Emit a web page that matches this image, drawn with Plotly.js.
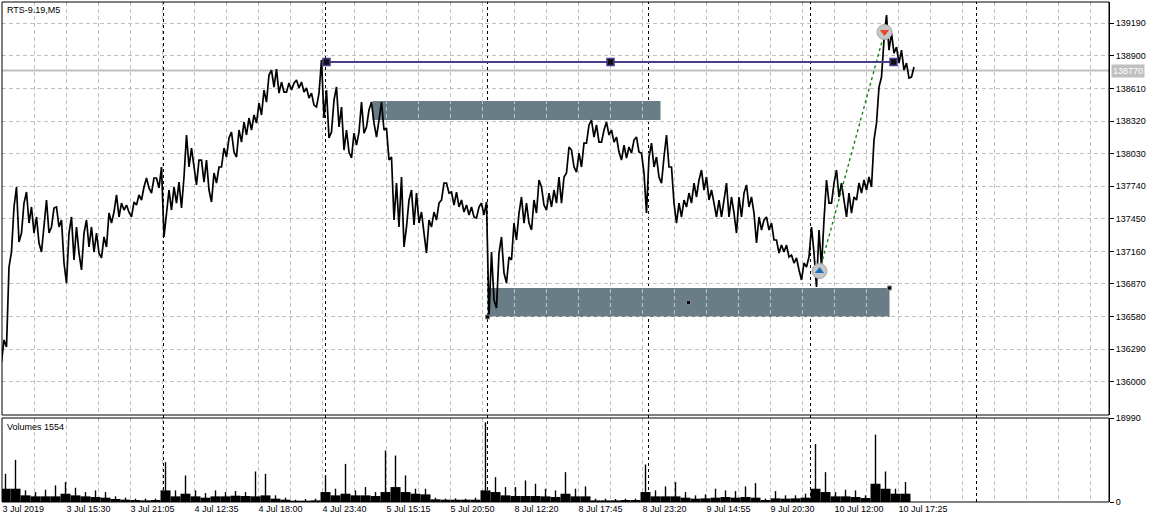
<!DOCTYPE html>
<html>
<head>
<meta charset="utf-8">
<script src="https://cdn.plot.ly/plotly-3.0.1.min.js"></script>
<style>html,body{margin:0;padding:0;background:#fff;}#chart{width:1162px;height:523px;}</style>
</head>
<body>
<div id="chart"></div>
<script>
// ---- data (RTS-9.19, M5) ----
// price envelope per 5-bar bucket (high / low)
const priceHigh = [136371,137021,137555,137733,137590,137688,137555,137466,137377,137617,137546,137555,137439,137323,137466,137377,137323,137439,137377,137323,
137288,137501,137510,137662,137590,137572,137599,137662,137733,137813,137813,137813,137911,137706,137733,137777,137822,138196,138080,137973,
137973,137973,137857,137911,138080,138169,138222,138240,138311,138347,138374,138480,138596,138730,138774,138783,138667,138658,138658,138685,
138667,138614,138569,138569,138863,138596,138507,138623,138445,138240,138213,138222,138489,138418,138489,138329,138489,138258,138000,137768,
137822,137617,137706,137679,137510,137439,137510,137590,137768,137768,137688,137688,137617,137572,137555,137555,137590,137599,137154,137145,
137288,137110,137412,137501,137644,137590,137617,137795,137733,137679,137706,137822,137822,138089,138062,138035,138124,138285,138329,138285,
138240,138311,138240,138178,138106,138089,138151,138178,138035,138000,138124,138000,138000,138196,137911,137590,137617,137679,137768,137795,
137884,137822,137706,137617,137617,137768,137644,137644,137679,137751,137644,137466,137439,137466,137412,137261,137216,137216,137127,137101,
137056,137110,137377,137350,137439,137795,137768,137884,137768,137679,137644,137768,137795,137822,138151,138623,139041,139264,139103,138979,
138952,138836,138801];
const priceLow = [136175,136309,137154,137243,137323,137412,137323,137234,137154,137323,137377,137377,137056,136878,137083,137145,136994,137199,137154,137145,
137101,137199,137412,137466,137528,137510,137466,137572,137617,137724,137679,137724,137288,137484,137528,137590,137546,137911,137911,137751,
137777,137706,137599,137768,137911,138000,138044,138000,138133,138196,138240,138302,138374,138489,138623,138569,138578,138578,138596,138614,
138578,138525,138462,138445,138347,138169,138222,138267,138062,138044,137991,138106,138213,138267,138302,138178,138240,137973,137439,137377,
137199,137377,137395,137412,137323,137145,137377,137439,137617,137679,137572,137555,137510,137484,137466,137457,137484,136576,136727,136656,
136967,136878,137083,137261,137412,137412,137350,137501,137572,137528,137555,137590,137590,137857,137911,137866,137911,138124,138178,138133,
138133,138196,138133,138044,137973,137991,138035,138044,137857,137501,137911,137822,137768,137911,137590,137412,137466,137555,137590,137644,
137706,137617,137590,137466,137466,137466,137501,137323,137466,137555,137501,137234,137350,137350,137261,137145,137154,137110,137056,136994,
136905,137021,137145,136843,137021,137590,137590,137644,137617,137466,137501,137617,137679,137706,137733,138302,138712,138952,138925,138836,
138774,138703,138712];

// volume per 10-bar bucket: typical level and peak
const volBase = [3000,3000,1500,1275,1275,1275,1875,1500,1275,1125,975,675,525,450,375,450,2625,1275,1875,1275,
975,1275,1275,1425,1350,1275,1500,750,525,300,300,375,2250,1500,1875,1500,1500,1350,2250,3375,
2250,1875,1725,600,525,525,525,525,2625,2250,1500,1350,1350,1350,1275,1125,1875,1275,1275,375,
375,375,450,450,2250,1275,1275,1275,975,750,825,975,1125,975,1125,975,450,825,750,825,
975,3000,2250,1275,1275,1125,900,4125,3000,1875,1875];
const volPeak = [6375,9525,2625,2250,2775,3750,4500,3225,2250,2625,2250,1275,975,750,750,750,9000,2625,6000,2625,
2025,2625,2250,2475,2250,6900,6375,1500,975,525,675,750,6000,3000,8625,2625,3375,2250,11625,10500,
6000,3000,3000,975,750,825,750,975,18000,5625,3375,3375,4875,4125,3000,2625,6750,3000,3525,750,
750,675,750,750,8475,2625,3525,4500,2250,1500,1725,3000,2625,2475,3525,4275,750,2475,1500,1500,
1875,13125,6750,2250,2775,2625,1500,15225,6900,3000,4500];

const priceTicks = [136000,136290,136580,136870,137160,137450,137740,138030,138320,138610,138900,139190];
const volTicks = [0, 18990];
const xLabels = ['3 Jul 2019','3 Jul 15:30','3 Jul 21:05','4 Jul 12:35','4 Jul 18:00','4 Jul 23:40','5 Jul 15:15',
  '5 Jul 20:50','8 Jul 12:20','8 Jul 17:45','8 Jul 23:20','9 Jul 14:55','9 Jul 20:30','10 Jul 12:00','10 Jul 17:25'];
const daySeparatorBars = [161, 323, 485, 646, 808, 974];

const bidPrice = 138770;
const levelBars = [324, 608, 891];
const levelPrice = 138845;
const zoneUpperBars = [370, 658];
const zoneUpperPrices = [138329, 138498];
const zoneLowerBars = [485, 887];
const zoneLowerPrices = [136576, 136834];
const tradeBars = [817, 882];
const tradePrices = [136985, 139112];

// ---- build traces ----
const BUCKET = 5, VBUCKET = 10;
const px = [], py = [];
for (let i = 0; i < priceHigh.length; i++) {
  const mid = (priceHigh[i] + priceLow[i]) / 2;
  const next = i + 1 < priceHigh.length ? (priceHigh[i+1] + priceLow[i+1]) / 2 : mid;
  const up = next >= mid;
  px.push(i * BUCKET - 1, i * BUCKET + 1.5);
  py.push(up ? priceLow[i] : priceHigh[i], up ? priceHigh[i] : priceLow[i]);
}
const vx = volBase.map((_, k) => k * VBUCKET + 3);

const LABEL_STEP = 64, GRID_STEP = 32, GRID_COUNT = 35;
const xTickVals = [], xTickText = [];
for (let j = 0; j < GRID_COUNT; j++) {
  xTickVals.push(j * GRID_STEP);
  xTickText.push((j % 2 === 0 && j / 2 < xLabels.length) ? xLabels[j / 2] : '');
}

const grid = '#C0C0C0';
const zoneColor = '#687D85';
const traces = [
  {type:'bar', x:vx, y:volBase, xaxis:'x', yaxis:'y2', width:VBUCKET, marker:{color:'#000', line:{width:0}}, hoverinfo:'skip'},
  {type:'bar', x:vx, y:volPeak, xaxis:'x', yaxis:'y2', width:1.4, marker:{color:'#000', line:{width:0}}, hoverinfo:'skip'},
  {type:'scatter', mode:'lines', x:px, y:py, xaxis:'x', yaxis:'y', line:{color:'#000', width:1.7}, hoverinfo:'skip'},
  {type:'scatter', mode:'lines', x:tradeBars, y:tradePrices, line:{color:'#008000', width:1.3, dash:'dot'}, hoverinfo:'skip'},
  {type:'scatter', mode:'lines+markers', x:levelBars, y:levelBars.map(() => levelPrice),
    line:{color:'#483D8B', width:2}, marker:{symbol:'square', size:7, color:'#111', line:{color:'#483D8B', width:1.5}}, hoverinfo:'skip'},
  {type:'scatter', mode:'markers',
    x:[zoneLowerBars[0], zoneLowerBars[1], (zoneLowerBars[0] + zoneLowerBars[1]) / 2],
    y:[zoneLowerPrices[0], zoneLowerPrices[1], (zoneLowerPrices[0] + zoneLowerPrices[1]) / 2],
    marker:{symbol:'square', size:4, color:'#000', line:{color:'#888', width:1}}, hoverinfo:'skip'},
  {type:'scatter', mode:'markers', x:tradeBars, y:tradePrices,
    marker:{symbol:'circle', size:15, color:'#C6C6C6', line:{color:'#A8A8A8', width:1}}, hoverinfo:'skip'},
  {type:'scatter', mode:'markers', x:tradeBars, y:tradePrices,
    marker:{symbol:['triangle-up','triangle-down'], size:8, color:['#1E6FBF','#E8442A'], line:{width:0}}, hoverinfo:'skip'}
];

const shapes = [
  {type:'rect', xref:'x', yref:'y', x0:zoneUpperBars[0], x1:zoneUpperBars[1], y0:zoneUpperPrices[0], y1:zoneUpperPrices[1],
    fillcolor:zoneColor, line:{width:0}, layer:'below'},
  {type:'rect', xref:'x', yref:'y', x0:zoneLowerBars[0], x1:zoneLowerBars[1], y0:zoneLowerPrices[0], y1:zoneLowerPrices[1],
    fillcolor:zoneColor, line:{width:0}, layer:'below'},
  {type:'line', xref:'paper', yref:'y', x0:0, x1:1, y0:bidPrice, y1:bidPrice, line:{color:'#C0C0C0', width:2}, layer:'below'}
];
daySeparatorBars.forEach(b => shapes.push({type:'line', xref:'x', yref:'paper', x0:b, x1:b, y0:0, y1:1,
  line:{color:'#000', width:1, dash:'3px,3px'}, layer:'below'}));
shapes.push({type:'rect', xref:'paper', yref:'paper', x0:0, x1:1, y0:0.174, y1:1, line:{color:'#000', width:1}, fillcolor:'rgba(0,0,0,0)'});
shapes.push({type:'rect', xref:'paper', yref:'paper', x0:0, x1:1, y0:0, y1:0.168, line:{color:'#000', width:1}, fillcolor:'rgba(0,0,0,0)'});

const layout = {
  width:1162, height:523,
  margin:{l:2, r:53, t:2, b:21, pad:0},
  paper_bgcolor:'#fff', plot_bgcolor:'#fff',
  showlegend:false, barmode:'overlay',
  font:{family:'"Liberation Sans", Arial, sans-serif', size:9, color:'#000'},
  xaxis:{anchor:'y2', domain:[0,1], range:[-0.5, 1106.5], tickmode:'array', tickvals:xTickVals, ticktext:xTickText,
    showgrid:true, gridcolor:grid, griddash:'4px,3px', gridwidth:1, zeroline:false, showline:false, ticks:'',
    ticklabelposition:'outside right', tickfont:{size:9}},
  yaxis:{anchor:'x', domain:[0.174,1], range:[135703,139380], side:'right', tickmode:'array', tickvals:priceTicks,
    ticktext:priceTicks.map(String), showgrid:true, gridcolor:grid, griddash:'4px,3px', zeroline:false,
    ticks:'outside', ticklen:4, tickcolor:'#000', showline:true, linecolor:'#000', linewidth:1, tickfont:{size:9}},
  yaxis2:{anchor:'x', domain:[0,0.168], range:[0,18990], side:'right', tickmode:'array', tickvals:volTicks,
    ticktext:volTicks.map(String), showgrid:false, zeroline:false, ticks:'outside', ticklen:4, tickcolor:'#000',
    showline:true, linecolor:'#000', linewidth:1, tickfont:{size:9}},
  shapes:shapes,
  annotations:[
    {xref:'paper', yref:'paper', x:0, y:1, xanchor:'left', yanchor:'top', xshift:3, yshift:-1, showarrow:false,
      text:'RTS-9.19,M5', font:{size:9, color:'#000'}},
    {xref:'paper', yref:'paper', x:0, y:0.168, xanchor:'left', yanchor:'top', xshift:3, yshift:-2, showarrow:false,
      text:'Volumes 1554', font:{size:9, color:'#000'}},
    {xref:'paper', yref:'y', x:1, y:bidPrice, xanchor:'left', yanchor:'middle', xshift:2, showarrow:false,
      text:String(bidPrice), bgcolor:'#C0C0C0', borderpad:1, font:{size:9, color:'#fff'}}
  ]
};

Plotly.newPlot('chart', traces, layout, {staticPlot:true, displayModeBar:false});
</script>
</body>
</html>
